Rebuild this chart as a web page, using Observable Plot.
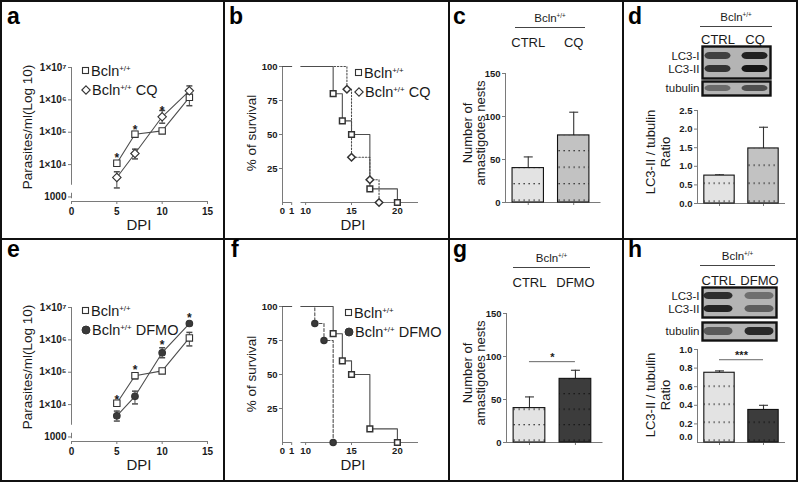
<!DOCTYPE html>
<html>
<head>
<meta charset="utf-8">
<script src="https://cdn.jsdelivr.net/npm/d3@7"></script>
<script src="https://cdn.jsdelivr.net/npm/@observablehq/plot@0.6"></script>
<style>
  html, body { margin: 0; padding: 0; background: #fff; }
  #fig { position: relative; width: 800px; height: 484px; background: #fff; overflow: hidden;
         font-family: "Liberation Sans", Arial, Helvetica, sans-serif; color: #1a1a1a; }
  #fig > svg { position: absolute; overflow: visible; }
  .t { position: absolute; white-space: nowrap; }
  .letter { font-weight: bold; font-size: 23px; line-height: 24px; color: #000; }
  .rot { transform: translate(-50%, -50%) rotate(-90deg); text-align: center; font-size: 13.5px; line-height: 14px; }
  .ctr { transform: translate(-50%, -50%); font-size: 15px; line-height: 16px; }
  sup { font-size: 0.55em; vertical-align: 0.65em; line-height: 0; }
  .leg { font-size: 14.5px; }
  .leg .row { display: flex; align-items: center; height: 19px; }
  .leg svg { margin-right: 1px; }
  .hdr { text-align: center; font-size: 11.5px; line-height: 13px; border-bottom: 1.2px solid #444; padding-bottom: 2px; }
  .line { position: absolute; background: #111; }
</style>
</head>
<body>
<div id="fig"></div>
<script>
// ================= DATA =================
// a / e : parasitemia (parasites/ml) at days post infection
const dpi = [5, 7, 10, 13];
const aBcln   = [1.1e4, 8.7e4, 1.1e5, 1.2e6];
const aBclnLo = [9.6e3, 7.0e4, 1.0e5, 6.6e5];
const aBclnHi = [1.25e4, 1.05e5, 1.2e5, 2.1e6];
const aCQ     = [4.0e3, 2.2e4, 3.0e5, 1.9e6];
const aCQLo   = [1.9e3, 1.5e4, 1.9e5, 1.2e6];
const aCQHi   = [6.0e3, 3.0e4, 4.7e5, 2.7e6];
const aStarDpi = [5, 7, 10];
const aStarY   = [1.9e4, 1.45e5, 5.6e5];

const eBcln   = [1.1e4, 7.8e4, 1.1e5, 1.15e6];
const eBclnLo = [9.6e3, 6.3e4, 1.0e5, 6.5e5];
const eBclnHi = [1.25e4, 9.5e4, 1.2e5, 1.7e6];
const eDFMO   = [4.5e3, 1.8e4, 4.0e5, 3.2e6];
const eDFMOLo = [3.1e3, 1.05e4, 2.8e5, 3.0e6];
const eDFMOHi = [6.3e3, 2.6e4, 5.7e5, 3.4e6];
const eStarDpi = [5, 7, 10, 13];
const eStarY   = [1.7e4, 1.45e5, 8.3e5, 5.9e6];

// b / f : survival (%) — event days and survival after each event
const bBclnT = [13, 14, 15, 17, 20], bBclnS = [80, 60, 50, 10, 0];
const bCQT   = [14.5, 15, 17, 18],   bCQS   = [83.3, 33.3, 16.7, 0];
const fBclnT = [13, 14, 15, 17, 20], fBclnS = [80, 60, 50, 10, 0];
const fDFMOT = [11, 12, 13],         fDFMOS = [87.5, 75, 0];
const survTicks = [0, 1, 10, 15, 20];

// c / g : number of amastigote nests ; d / h : LC3-II / tubulin ratio
const cNames = ["CTRL", "CQ"],   cVals = [40, 78],     cHi = [53, 105];
const dNames = ["CTRL", "CQ"],   dVals = [0.75, 1.48], dHi = [0.77, 2.05];
const gNames = ["CTRL", "DFMO"], gVals = [40, 74],     gHi = [53, 84];
const hNames = ["CTRL", "DFMO"], hVals = [0.75, 0.35], hHi = [0.77, 0.40];
const gSig = [{from: 0, to: 1, y: 94, label: "*"}];
const hSig = [{from: 0, to: 1, y: 0.89, label: "***"}];

// western blots : band intensity per lane (0..1)
const lc3Bands = ["LC3-I", "LC3-II"];
const dLC3 = [[0.70, 0.90], [0.78, 0.97]];
const dTub = [[0.45, 0.62]];
const hLC3 = [[0.82, 0.42], [0.88, 0.52]];
const hTub = [[0.55, 0.85]];

// ================= HELPERS =================
const FONT = '"Liberation Sans", Arial, Helvetica, sans-serif';
const AX = "#7a7a7a", LN = "#4d4d4d", MK = "#333", TXT = "#1a1a1a";
const fig = document.getElementById("fig");
function put(node, left, top) { node.style.left = left + "px"; node.style.top = top + "px"; fig.appendChild(node); return node; }
function txt(html, left, top, cls, css) {
  const d = document.createElement("div");
  d.className = "t " + (cls || ""); d.innerHTML = html; if (css) d.style.cssText += css;
  return put(d, left, top);
}
function bar(l, t, w, h) { const d = document.createElement("div"); d.className = "line"; d.style.width = w + "px"; d.style.height = h + "px"; return put(d, l, t); }
const baseStyle = {fontFamily: FONT, fontSize: "10px", fontWeight: "bold", color: TXT, background: "transparent", overflow: "visible"};
const capSym = { draw(ctx, size) { const w = Math.sqrt(size / Math.PI); ctx.moveTo(-w, 0); ctx.lineTo(w, 0); } };
const BCLN = 'Bcln<sup>+/+</sup>';

// panel frames
bar(0, 0, 798, 2); bar(0, 480, 798, 2); bar(0, 0, 2, 482); bar(796, 0, 2, 482);
bar(223, 0, 2, 482); bar(448, 0, 2, 482); bar(622, 0, 2, 482); bar(0, 238, 798, 2);

// ================= GROWTH (a, e) =================
const logMin = 724;
const logTicks = [1e3, 1e4, 1e5, 1e6, 1e7];
const supDigits = "⁰¹²³⁴⁵⁶⁷⁸⁹";
const fmtLog = v => v === 1000 ? "1000" : "1×10" + supDigits[Math.round(Math.log10(v))];
const yAxisSegs = [{y1: 1e7, y2: 2.3e3}, {y1: 1.3e3, y2: 880}];

function growthPlot(A, B, starX, starY) {
  const rows = s => dpi.map((x, i) => ({x, y: s.v[i], lo: s.lo[i], hi: s.hi[i]}));
  const ra = rows(A), rb = rows(B);
  const stars = starX.map((x, i) => ({x, y: starY[i]}));
  const err = r => [
    Plot.ruleX(r, {x: "x", y1: "lo", y2: "hi", stroke: LN, strokeWidth: 1}),
    Plot.dot(r, {x: "x", y: "hi", symbol: capSym, r: 3, stroke: LN, fill: "none"}),
    Plot.dot(r, {x: "x", y: "lo", symbol: capSym, r: 3, stroke: LN, fill: "none"})
  ];
  return Plot.plot({
    width: 220, height: 234, marginLeft: 68, marginRight: 16, marginTop: 64, marginBottom: 36,
    x: {domain: [0, 15]},
    y: {type: "log", domain: [logMin, 1e7]},
    style: baseStyle,
    marks: [
      Plot.ruleX(yAxisSegs, {x: 0, y1: "y1", y2: "y2", stroke: AX}),
      Plot.ruleY([logMin], {stroke: AX}),
      Plot.axisY({ticks: logTicks, tickFormat: fmtLog, tickSize: 3, tickPadding: 2, stroke: AX, label: null}),
      Plot.axisX({ticks: [0, 5, 10, 15], tickSize: 3, tickPadding: 3, stroke: AX, label: null}),
      ...err(ra), ...err(rb),
      Plot.line(ra, {x: "x", y: "y", stroke: LN, strokeWidth: 1.1}),
      Plot.line(rb, {x: "x", y: "y", stroke: LN, strokeWidth: 1.1}),
      Plot.dot(ra, {x: "x", y: "y", symbol: A.symbol, r: A.r, fill: A.fill, stroke: MK, strokeWidth: 1.1}),
      Plot.dot(rb, {x: "x", y: "y", symbol: B.symbol, r: B.r, fill: B.fill, stroke: MK, strokeWidth: 1.1}),
      Plot.text(stars, {x: "x", y: "y", text: () => "*", fontSize: 12, fontWeight: "bold", dy: 3})
    ]
  });
}

const sq = {symbol: "square", r: 3.6, fill: "white"};
put(growthPlot({...sq, v: aBcln, lo: aBclnLo, hi: aBclnHi},
               {symbol: "diamond2", r: 3.8, fill: "white", v: aCQ, lo: aCQLo, hi: aCQHi},
               aStarDpi, aStarY), 3, 3);
put(growthPlot({...sq, v: eBcln, lo: eBclnLo, hi: eBclnHi},
               {symbol: "circle", r: 3.3, fill: "#3a3a3a", v: eDFMO, lo: eDFMOLo, hi: eDFMOHi},
               eStarDpi, eStarY), 3, 243);

// ================= SURVIVAL (b, f) =================
// broken x axis: days 0–1, gap, then days 9.5 onward
const brk = {lo: 1, hi: 9.5, stretch: 1, gap: 1.02, end: 22.3};
const ux = t => t <= brk.lo ? t * brk.stretch : brk.lo * brk.stretch + brk.gap + (t - brk.hi);
function survPlot(A, B) {
  const steps = (T, S) => [{t: 0, s: 100}, {t: brk.lo, s: 100}, {t: NaN, s: NaN}, {t: brk.hi, s: 100},
                           ...T.map((t, i) => ({t, s: S[i]}))];
  const ev = (T, S) => T.map((t, i) => ({t, s: S[i]}));
  const tickU = survTicks.map(ux);
  const X = d => ux(d.t);
  return Plot.plot({
    width: 221, height: 234, marginLeft: 56, marginRight: 29, marginTop: 63, marginBottom: 35,
    x: {domain: [0, ux(brk.end)]}, y: {domain: [0, 100]},
    style: {...baseStyle, fontSize: "9.5px"},
    marks: [
      Plot.ruleX([0], {stroke: AX}),
      Plot.ruleY([{x1: 0, x2: brk.lo}, {x1: brk.hi, x2: brk.end}], {x1: d => ux(d.x1), x2: d => ux(d.x2), y: 0, stroke: AX}),
      Plot.axisY({ticks: [25, 50, 75, 100], tickSize: 3, tickPadding: 2, stroke: AX, label: null}),
      Plot.axisX({ticks: tickU, tickFormat: v => String(survTicks[tickU.indexOf(v)]), tickSize: 3, tickPadding: 2, stroke: AX, label: null}),
      Plot.line(steps(B.T, B.S), {x: X, y: "s", curve: "step-after", stroke: LN, strokeWidth: 1.1, strokeDasharray: B.dash}),
      Plot.line(steps(A.T, A.S), {x: X, y: "s", curve: "step-after", stroke: LN, strokeWidth: 1.1}),
      Plot.dot(ev(B.T, B.S), {x: X, y: "s", symbol: B.symbol, r: B.r, fill: B.fill, stroke: MK}),
      Plot.dot(ev(A.T, A.S), {x: X, y: "s", symbol: A.symbol, r: A.r, fill: A.fill, stroke: MK})
    ]
  });
}
put(survPlot({T: bBclnT, S: bBclnS, symbol: "square", r: 3.2, fill: "white"},
             {T: bCQT, S: bCQS, symbol: "diamond2", r: 3.4, fill: "white", dash: "1.5,1.8"}), 226, 3);
put(survPlot({T: fBclnT, S: fBclnS, symbol: "square", r: 3.2, fill: "white"},
             {T: fDFMOT, S: fDFMOS, symbol: "circle", r: 3, fill: "#3a3a3a", dash: "3,2"}), 226, 243);

// ================= BAR CHARTS (c, d, g, h) =================
const FILL = {CTRL: "#e3e3e3", CQ: "#c2c2c2", DFMO: "#3c3c3c"};
const DOT = {CTRL: "#222", CQ: "#222", DFMO: "#111"};
let patId = 0;
function barPlot(cfg) {
  const id = "pat" + (patId++);
  const rows = cfg.names.map((n, i) => ({i, name: n, v: cfg.vals[i], hi: cfg.his[i]}));
  const marks = [
    Plot.ruleX([-0.5], {stroke: AX}),
    Plot.ruleY([0], {stroke: AX}),
    Plot.axisY({ticks: cfg.ticks, tickFormat: cfg.fmt, tickSize: 3, tickPadding: 2, stroke: AX, label: null}),
    Plot.axisX({ticks: [0, 1], tickSize: 3, tickFormat: () => "", stroke: AX, label: null}),
    Plot.ruleX(rows, {x: "i", y1: "v", y2: "hi", stroke: "#333", strokeWidth: 1.1}),
    Plot.dot(rows, {x: "i", y: "hi", symbol: capSym, r: 4.5, stroke: "#333", fill: "none", strokeWidth: 1.1}),
    ...rows.map(r => Plot.rect([r], {x1: d => d.i - 0.345, x2: d => d.i + 0.345, y1: 0, y2: "v",
                                     fill: `url(#${id}-${r.i})`, stroke: "#111", strokeWidth: 1.1}))
  ];
  if (cfg.top) marks.push(Plot.axisX({anchor: "top", ticks: [0, 1], tickFormat: i => cfg.names[i], tickSize: 0,
                                      tickPadding: cfg.top, fontSize: 13, fontWeight: "normal", label: null}));
  if (cfg.sig) marks.push(
    Plot.ruleY(cfg.sig, {x1: "from", x2: "to", y: "y", stroke: "#666", strokeWidth: 1}),
    Plot.text(cfg.sig, {x: d => (d.from + d.to) / 2, y: "y", text: "label", fontSize: 11, fontWeight: "bold", dy: -4}));
  if (cfg.lowZero) marks.push(Plot.axisY({ticks: [0], tickFormat: d => d.toFixed(1), tickSize: 0, tickPadding: 5, dy: -6, label: null}));
  const svg = Plot.plot({
    width: cfg.width, height: 234, marginLeft: cfg.ml, marginRight: cfg.mr, marginTop: cfg.mt, marginBottom: cfg.mb,
    x: {domain: cfg.xdom}, y: {domain: cfg.ydom},
    style: {...baseStyle, fontSize: "9.5px"}, marks
  });
  const baseline = 234 - cfg.mb;
  const defs = d3.select(svg).insert("defs", ":first-child");
  cfg.names.forEach((n, i) => {
    const p = defs.append("pattern").attr("id", `${id}-${i}`).attr("patternUnits", "userSpaceOnUse")
      .attr("width", 5).attr("height", cfg.step).attr("x", 1).attr("y", baseline - 2.5);
    p.append("rect").attr("width", 5).attr("height", cfg.step).attr("fill", FILL[n]);
    p.append("rect").attr("x", 1.5).attr("y", 0).attr("width", 1.3).attr("height", 1.3).attr("fill", DOT[n]);
  });
  return svg;
}
const cntFmt = d => String(d);
const ratFmt = d => d.toFixed(1);
put(barPlot({names: cNames, vals: cVals, his: cHi, ticks: [0, 50, 100, 150], fmt: cntFmt, ydom: [0, 150],
             width: 170, ml: 54, mr: 20.5, mt: 70, mb: 35, xdom: [-0.5, 1.6], top: 27, step: 16.5}), 451, 3);
put(barPlot({names: gNames, vals: gVals, his: gHi, ticks: [0, 50, 100, 150], fmt: cntFmt, ydom: [0, 150],
             width: 170, ml: 55, mr: 18.5, mt: 70, mb: 35, xdom: [-0.5, 1.6], top: 27, step: 15.5, sig: gSig}), 451, 243);
put(barPlot({names: dNames, vals: dVals, his: dHi, ticks: [0, 0.5, 1, 1.5, 2, 2.5], fmt: ratFmt, ydom: [0, 2.5],
             width: 169, ml: 71, mr: 10, mt: 107, mb: 34, xdom: [-0.5, 1.5], step: 18}), 626, 3);
put(barPlot({names: hNames, vals: hVals, his: hHi, ticks: [0.2, 0.4, 0.6, 0.8, 1.0], fmt: ratFmt, ydom: [0, 1],
             width: 169, ml: 71, mr: 10, mt: 106, mb: 35, xdom: [-0.5, 1.5], step: 18, sig: hSig, lowZero: true}), 626, 243);

// ================= WESTERN BLOTS (d, h) =================
let blotId = 0;
function blotPlot(lanes, bands, matrix, w, h, showLanes, yPad) {
  const cells = [];
  bands.forEach((b, j) => lanes.forEach((l, i) => cells.push({lane: l, band: b, v: matrix[j][i]})));
  const mt = showLanes ? 20 : 3;
  const marks = [
    Plot.frame({fill: "#b4b4b4", stroke: "none"}),
    Plot.cell(cells, {x: "lane", y: "band", fill: "#101010", fillOpacity: "v", rx: 5, insetLeft: 1.5, insetRight: 1.5, ariaLabel: "bands"}),
    Plot.frame({stroke: "#111", strokeWidth: 2.4}),
    Plot.axisY({tickSize: 0, tickPadding: 3, label: null, fontSize: 11.5})
  ];
  if (showLanes) marks.push(Plot.axisX({anchor: "top", tickSize: 0, tickPadding: 3, label: null, fontSize: 13}));
  const svg = Plot.plot({
    width: 46 + w + 3, height: mt + h + 3, marginLeft: 46, marginRight: 3, marginTop: mt, marginBottom: 3,
    x: {type: "band", domain: lanes, paddingInner: 0.21, paddingOuter: 0, axis: showLanes ? undefined : null},
    y: {type: "band", domain: bands, paddingInner: yPad[0], paddingOuter: yPad[1]},
    opacity: {domain: [0, 1], range: [0, 0.88]},
    style: {...baseStyle, fontSize: "12px", fontWeight: "normal"},
    marks
  });
  const fid = "blur" + (blotId++);
  d3.select(svg).insert("defs", ":first-child").append("filter").attr("id", fid)
    .attr("x", "-30%").attr("y", "-100%").attr("width", "160%").attr("height", "300%")
    .append("feGaussianBlur").attr("stdDeviation", "1.4 1.1");
  d3.select(svg).selectAll('g[aria-label="bands"]').attr("filter", `url(#${fid})`);
  return svg;
}
put(blotPlot(dNames, lc3Bands, dLC3, 68, 32, true, [0.5, 0.45]), 656, 26);
put(blotPlot(dNames, ["tubulin"], dTub, 68, 14, false, [0, 0.55]), 656, 78);
put(blotPlot(hNames, lc3Bands, hLC3, 74, 30, true, [0.5, 0.4]), 656, 267);
put(blotPlot(hNames, ["tubulin"], hTub, 74, 18, false, [0, 0.6]), 656, 319);

// ================= TEXT: letters, titles, legends, headers =================
[["a", 7, 4], ["b", 229, 4], ["c", 453, 4], ["d", 628, 4],
 ["e", 7, 237], ["f", 231, 237], ["g", 453, 237], ["h", 628, 237]].forEach(([s, x, y]) => txt(s, x, y, "letter"));

txt("Parasites/ml(Log 10)", 28, 127, "rot");
txt("Parasites/ml(Log 10)", 28, 367, "rot");
txt("% of survival", 252, 133, "rot");
txt("% of survival", 252, 374, "rot");
txt("Number of<br>amastigotes nests", 474, 133, "rot", "font-size:13px;line-height:13px;");
txt("Number of<br>amastigotes nests", 474, 373, "rot", "font-size:13px;line-height:13px;");
txt("LC3-II / tubulin<br>Ratio", 658, 152, "rot", "font-size:13px;line-height:15px;");
txt("LC3-II / tubulin<br>Ratio", 658, 395, "rot", "font-size:13px;line-height:15px;");
txt("DPI", 139, 225, "ctr"); txt("DPI", 353, 225, "ctr");
txt("DPI", 139, 465, "ctr"); txt("DPI", 353, 465, "ctr");

const icon = {
  square: '<svg width="9" height="9"><rect x="1.5" y="1.5" width="6" height="6" fill="#fff" stroke="#333" stroke-width="1.1"/></svg>',
  diamond: '<svg width="10" height="10"><path d="M5 0.8 L9.2 5 L5 9.2 L0.8 5 Z" fill="#fff" stroke="#333" stroke-width="1.1"/></svg>',
  circle: '<svg width="10" height="10"><circle cx="5" cy="5" r="4" fill="#3a3a3a" stroke="#333"/></svg>'
};
function legend(items, x, y) {
  txt(items.map(([ic, lab]) => `<div class="row">${icon[ic]}<span>${lab}</span></div>`).join(""), x, y, "leg");
}
legend([["square", BCLN], ["diamond", BCLN + "&nbsp;CQ"]], 81, 61);
legend([["square", BCLN], ["circle", BCLN + "&nbsp;DFMO"]], 81, 301);
legend([["square", BCLN], ["diamond", BCLN + "&nbsp;CQ"]], 354, 63);
legend([["square", BCLN], ["circle", BCLN + "&nbsp;DFMO"]], 344, 303);

txt(BCLN, 515, 12, "hdr", "width:70px;");
txt(BCLN, 513, 252, "hdr", "width:77px;");
txt(BCLN, 700, 11, "hdr", "width:72px;");
txt(BCLN, 700, 250, "hdr", "width:75px;");
</script>
</body>
</html>
